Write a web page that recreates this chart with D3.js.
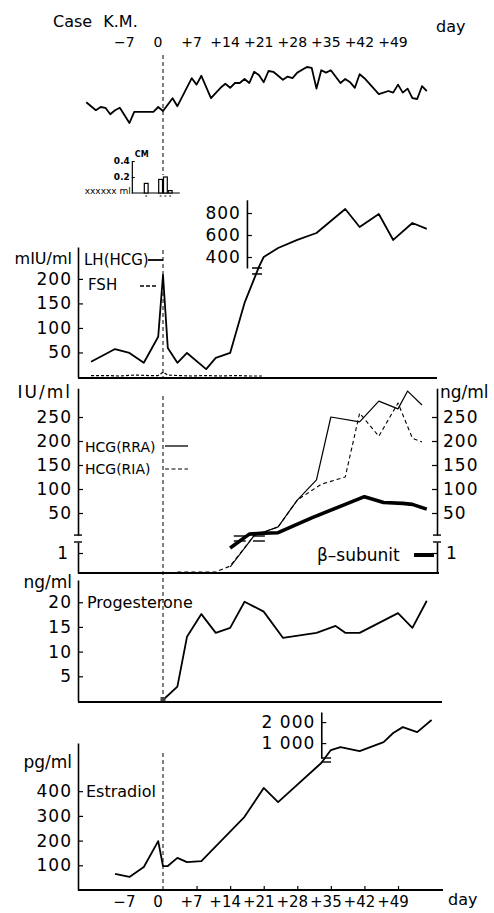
<!DOCTYPE html>
<html>
<head>
<meta charset="utf-8">
<script src="https://cdn.jsdelivr.net/npm/d3@7"></script>
<style>
  body { margin: 0; background: #fff; }
  svg text { font-family: "DejaVu Sans", sans-serif; fill: #000; }
</style>
</head>
<body>
<div id="chart"></div>
<script>
// day axis
const dayTicks = [-7, 0, 7, 14, 21, 28, 35, 42, 49];
const dayLabels = ["−7", "0", "+7", "+14", "+21", "+28", "+35", "+42", "+49"];

// basal body temperature (deg C, no axis shown)
const bbtDays = [-16, -14, -13, -12, -11, -10, -9, -7, -6, -5, -2, -1, 0, 2, 3, 6, 7, 8, 10, 12, 13, 14, 15, 16, 17, 18, 19, 20, 21, 22, 23, 25, 26, 27, 28, 30, 31, 32, 33, 34, 35, 37, 38, 39, 40, 41, 42, 45, 47, 48, 49, 50, 51, 52, 53, 54, 55];
const bbtValues = [36.56, 36.46, 36.50, 36.49, 36.41, 36.46, 36.49, 36.30, 36.44, 36.44, 36.44, 36.50, 36.45, 36.61, 36.51, 36.86, 36.78, 36.89, 36.61, 36.74, 36.79, 36.74, 36.80, 36.80, 36.85, 36.80, 36.94, 36.90, 36.81, 36.95, 36.94, 36.84, 36.88, 36.86, 36.93, 37.00, 36.99, 36.73, 36.96, 36.93, 36.96, 36.80, 36.85, 36.81, 36.74, 36.91, 36.86, 36.66, 36.70, 36.68, 36.78, 36.68, 36.73, 36.61, 36.60, 36.76, 36.70];

// cervical mucus (ml)
const cmDays = [-4, -1, 0, 1];
const cmValues = [0.12, 0.17, 0.2, 0.03];
const cmTicks = [0.2, 0.4];

// LH(HCG) and FSH, mIU/ml
const lhDays = [-15, -10, -7, -4, -1, 0, 1, 3, 5, 9, 11, 14, 17, 20, 21, 24, 28, 32, 38, 41, 45, 48, 52, 55];
const lhValues = [31, 57, 49, 29, 82, 208, 59, 29, 49, 16, 39, 49, 151, 310, 400, 482, 555, 618, 836, 673, 791, 555, 709, 655];
const fshDays = [-15, -12, -9, -6, -3, -1, 0, 1, 3, 6, 9, 12, 15, 18, 21];
const fshValues = [3, 3, 2, 4, 3, 3, 10, 4, 3, 2, 3, 2, 3, 2, 2];
const lhTicksLow = [50, 100, 150, 200];
const lhTicksHigh = [400, 600, 800];

// HCG, IU/ml and beta-subunit, ng/ml
const rraDays = [14, 19, 24, 28, 32, 35, 41, 45, 49, 51, 54];
const rraValues = [0.3, 3, 21, 77, 119, 250, 240, 283, 267, 304, 275];
const riaDays = [3, 11, 14, 19, 24, 28, 33, 38, 41, 45, 49, 52, 54];
const riaValues = [0.05, 0.05, 0.35, 3, 21, 77, 110, 125, 258, 210, 279, 206, 198];
const betaDays = [14, 18, 21, 24, 31, 38, 42, 46, 50, 52, 55];
const betaValues = [1.25, 6, 8, 9, 40, 68, 84, 72, 70, 68, 58];
const hcgTicks = [50, 100, 150, 200, 250];

// progesterone, ng/ml
const progDays = [0, 3, 5, 8, 11, 14, 17, 21, 25, 32, 36, 38, 41, 49, 52, 55];
const progValues = [0.2, 2.9, 13, 17.6, 13.8, 14.8, 20.1, 18.1, 12.8, 13.8, 15.2, 13.8, 13.8, 17.8, 14.8, 20.3];
const progTicks = [5, 10, 15, 20];

// estradiol, pg/ml
const e2Days = [-10, -7, -4, -1, 0, 1, 3, 5, 8, 17, 21, 24, 33, 35, 37, 41, 46, 48, 50, 53, 56];
const e2Values = [65, 53, 93, 198, 97, 97, 130, 113, 117, 296, 413, 356, 514, 667, 810, 620, 1050, 1480, 1760, 1520, 2100];
const e2TicksLow = [100, 200, 300, 400];
const e2TicksHigh = [1000, 2000];
const e2TickLabelsHigh = ["1 000", "2 000"];

const width = 494, height = 913;
const left = 78;

const svg = d3.select("#chart").append("svg")
  .attr("width", width)
  .attr("height", height);

const x = d3.scaleLinear().domain([0, 49]).range([163, 398]);

function styleAxis(g, size) {
  g.attr("font-family", null).attr("font-size", null);
  g.select(".domain").attr("stroke-width", 1.6);
  g.selectAll(".tick line").attr("stroke-width", 1.2);
  g.selectAll(".tick text").style("font-size", size + "px").attr("letter-spacing", 1);
}

function plot(days, values, yf, width, dash) {
  const line = d3.line()
    .x((d, i) => x(days[i]))
    .y(d => yf(d));
  svg.append("path")
    .datum(values)
    .attr("d", line)
    .attr("fill", "none")
    .attr("stroke", "#000")
    .attr("stroke-width", width)
    .attr("stroke-linejoin", "round")
    .attr("stroke-dasharray", dash || null);
}

function hline(x1, x2, y, w) {
  svg.append("line").attr("x1", x1).attr("x2", x2).attr("y1", y).attr("y2", y)
    .attr("stroke", "#000").attr("stroke-width", w || 1.6);
}

function label(txt, tx, ty, size, anchor) {
  return svg.append("text").attr("x", tx).attr("y", ty)
    .attr("text-anchor", anchor || "start")
    .style("font-size", size + "px")
    .text(txt);
}

// ---- header ----
label("Case K.M.", 53, 27, 16).attr("word-spacing", 6);
label("day", 436, 32, 16);
svg.append("g").selectAll("text")
  .data(dayTicks)
  .join("text")
  .attr("x", d => x(d) - 5)
  .attr("y", 47)
  .attr("text-anchor", "middle")
  .style("font-size", "14px")
  .text((d, i) => dayLabels[i]);

// day-0 reference line
[[55, 175], [250, 378], [396, 702], [753, 890]].forEach(s => {
  svg.append("line")
    .attr("x1", x(0)).attr("x2", x(0)).attr("y1", s[0]).attr("y2", s[1])
    .attr("stroke", "#000").attr("stroke-width", 1).attr("stroke-dasharray", "4,3");
});

// ---- basal body temperature ----
const yT = d3.scaleLinear().domain([36.2, 37.1]).range([131, 59]);
plot(bbtDays, bbtValues, yT, 1.8);

// ---- cervical mucus inset ----
const yCM = d3.scaleLinear().domain([0, 0.4]).range([193, 161]);
const cmAxis = svg.append("g")
  .attr("transform", `translate(${x(-6.5)},0)`)
  .call(d3.axisLeft(yCM).tickValues(cmTicks).tickSize(-3).tickSizeOuter(0).tickPadding(2).tickFormat(d3.format(".1f")));
cmAxis.attr("font-family", null).attr("font-size", null);
cmAxis.select(".domain").attr("stroke-width", 1.2);
cmAxis.selectAll(".tick text").style("font-size", "9px").style("font-weight", "bold");
hline(x(-6.5), x(3.5), yCM(0), 1.2);
label("CM", x(-6.5) + 3, 157, 8).style("font-weight", "bold");
label("xxxxxx ml", x(-6.5) - 1, 194, 9, "end");
svg.append("g").selectAll("rect")
  .data(cmValues)
  .join("rect")
  .attr("x", (d, i) => x(cmDays[i]) + 0.5)
  .attr("width", (d, i) => x(cmDays[i] + 1) - x(cmDays[i]) - 1)
  .attr("y", d => yCM(d))
  .attr("height", d => yCM(0) - yCM(d))
  .attr("fill", "#fff")
  .attr("stroke", "#000")
  .attr("stroke-width", 1.2);
svg.append("g").selectAll("line")
  .data(cmDays)
  .join("line")
  .attr("x1", d => x(d) + 1.5).attr("x2", d => x(d + 1) - 1.5)
  .attr("y1", yCM(0) + 3).attr("y2", yCM(0) + 3)
  .attr("stroke", "#000").attr("stroke-width", 1);

// ---- LH / FSH ----
const lhLo = d3.scaleLinear().domain([0, 265]).range([377, 247]);
const lhHi = d3.scaleLinear().domain([300, 920]).range([268, 199.8]);
const yLH = v => v <= 250 ? lhLo(v) : lhHi(v);

svg.append("g").attr("transform", `translate(${left},0)`)
  .call(d3.axisLeft(lhLo).tickValues(lhTicksLow).tickSize(-5).tickSizeOuter(0).tickPadding(6))
  .call(g => styleAxis(g, 17));
svg.append("g").attr("transform", `translate(${x(17.5)},0)`)
  .call(d3.axisLeft(lhHi).tickValues(lhTicksHigh).tickSize(-5).tickSizeOuter(0).tickPadding(6))
  .call(g => styleAxis(g, 17));
hline(left, 437, 378, 1.8);
label("mIU/ml", 72, 264, 16, "end");

plot(fshDays, fshValues, yLH, 1.2, "3,2");
plot(lhDays, lhValues, yLH, 1.8);
hline(x(19.6) - 5, x(19.6) + 5, lhHi(300), 1.5);
hline(x(19.6) - 5, x(19.6) + 5, lhLo(210), 1.5);

label("LH(HCG)", 84, 265, 15);
hline(148, x(0), 260, 1.8);
label("FSH", 88, 290, 15);
svg.append("line").attr("x1", 140).attr("x2", 158).attr("y1", 286).attr("y2", 286)
  .attr("stroke", "#000").attr("stroke-width", 1.4).attr("stroke-dasharray", "4,2");

// ---- HCG / beta-subunit ----
const hcgHi = d3.scaleLinear().domain([0, 310]).range([537, 388.2]);
const hcgLo = d3.scaleLinear().domain([0, 1.55]).range([573, 542]);
const yHCG = v => v <= 1.5 ? hcgLo(v) : hcgHi(v);
const hcgHiAxis = hcgHi.copy().domain([4, 310]).range([hcgHi(4), hcgHi(310)]);

[[d3.axisLeft, left], [d3.axisRight, 437]].forEach(([ax, pos]) => {
  svg.append("g").attr("transform", `translate(${pos},0)`)
    .call(ax(hcgHiAxis).tickValues(hcgTicks).tickSize(-5).tickSizeOuter(0).tickPadding(6))
    .call(g => styleAxis(g, 17));
  svg.append("g").attr("transform", `translate(${pos},0)`)
    .call(ax(hcgLo).tickValues([1]).tickSize(-5).tickSizeOuter(0).tickPadding(9).tickFormat(d3.format("d")))
    .call(g => styleAxis(g, 17));
  hline(pos - 4, pos + 4, hcgHiAxis(4), 1.4);
  hline(pos - 4, pos + 4, hcgLo(1.55), 1.4);
});
hline(left, 439, 573, 1.8);
label("IU/ml", 72, 398, 17, "end").attr("letter-spacing", 2);
label("ng/ml", 440, 398, 17);

plot(riaDays, riaValues, yHCG, 1.1, "4,3");
plot(rraDays, rraValues, yHCG, 1.2);
plot(betaDays, betaValues, yHCG, 3.6);
[16, 20].forEach(d => {
  hline(x(d) - 6, x(d) + 6, 536, 1.4);
  hline(x(d) - 6, x(d) + 6, 541, 1.4);
});

label("HCG(RRA)", 85, 452, 14);
hline(165, 188, 446, 1.3);
label("HCG(RIA)", 85, 474, 14);
svg.append("line").attr("x1", 165).attr("x2", 188).attr("y1", 469).attr("y2", 469)
  .attr("stroke", "#000").attr("stroke-width", 1.2).attr("stroke-dasharray", "4,2.5");
label("β–subunit", 317, 561, 17);
hline(414, 434, 555, 4);

// ---- progesterone ----
const yP = d3.scaleLinear().domain([0, 24.5]).range([701, 580]);
svg.append("g").attr("transform", `translate(${left},0)`)
  .call(d3.axisLeft(yP).tickValues(progTicks).tickSize(-5).tickSizeOuter(0).tickPadding(6))
  .call(g => styleAxis(g, 17));
hline(left, 442, 702, 1.8);
label("ng/ml", 72, 588, 17, "end");
label("Progesterone", 87, 608, 16);
plot(progDays, progValues, yP, 1.8);
svg.append("rect")
  .attr("x", x(progDays[0]) - 2.5).attr("y", yP(progValues[0]) - 3)
  .attr("width", 5).attr("height", 4)
  .attr("fill", "#444");

// ---- estradiol ----
const e2Lo = d3.scaleLinear().domain([0, 595]).range([890, 743]);
const e2Hi = d3.scaleLinear().domain([290, 2480]).range([758, 712]);
const yE = v => v <= 520 ? e2Lo(v) : e2Hi(v);
svg.append("g").attr("transform", `translate(${left},0)`)
  .call(d3.axisLeft(e2Lo).tickValues(e2TicksLow).tickSize(-5).tickSizeOuter(0).tickPadding(6))
  .call(g => styleAxis(g, 17));
svg.append("g").attr("transform", `translate(${x(33)},0)`)
  .call(d3.axisLeft(e2Hi).tickValues(e2TicksHigh).tickSize(-5).tickSizeOuter(0).tickPadding(6)
    .tickFormat((d, i) => e2TickLabelsHigh[i]))
  .call(g => styleAxis(g, 17));
const bottom = svg.append("g").attr("transform", `translate(0,890)`)
  .call(d3.axisBottom(x).tickValues(dayTicks.slice(2)).tickSize(-4).tickSizeOuter(0).tickFormat(""));
bottom.select(".domain").remove();
bottom.selectAll(".tick line").attr("stroke-width", 1.2);
hline(left, 443, 890, 1.8);
svg.append("g").selectAll("text")
  .data(dayTicks)
  .join("text")
  .attr("x", d => x(d) - 5)
  .attr("y", 907)
  .attr("text-anchor", "middle")
  .style("font-size", "15px")
  .text((d, i) => dayLabels[i]);
label("day", 448, 905, 16);
label("pg/ml", 72, 768, 17, "end");
label("Estradiol", 86, 797, 16);
plot(e2Days, e2Values, yE, 1.8);
hline(x(34) - 5, x(34) + 5, 758, 1.4);
hline(x(34) - 5, x(34) + 5, 762, 1.4);
</script>
</body>
</html>
